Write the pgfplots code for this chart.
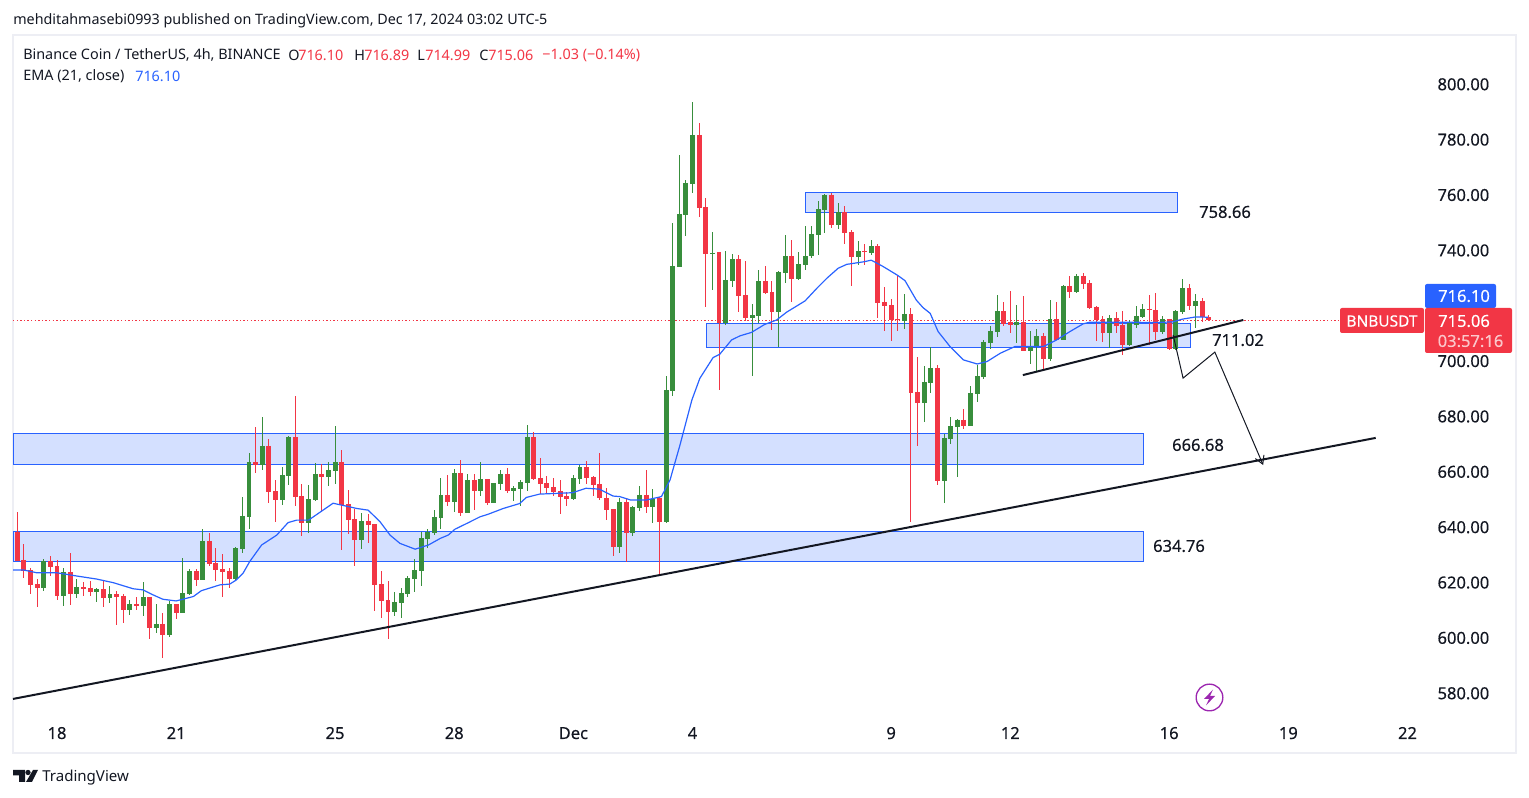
\documentclass[border=0pt]{standalone}
\usepackage{fontspec}
\setmainfont{Noto Sans}
\newfontfamily\med[FakeBold=0.25]{Noto Sans}
\usepackage{pgfplots}
\usepackage{pgfplotstable}
\pgfplotsset{compat=1.18}
\usetikzlibrary{arrows.meta}
\definecolor{tvred}{HTML}{F23645}
\definecolor{tvgreen}{HTML}{388E3C}
\definecolor{tvblue}{HTML}{2962FF}
\definecolor{tvink}{HTML}{131722}
\definecolor{tvframe}{HTML}{EDEEF4}
\definecolor{tvpurple}{HTML}{9C27B0}
\pgfplotstableread{
x hi top bot lo
0 645.7 638.6 627.9 627.9
1 634.2 628.4 624.5 622.0
2 625.4 624.8 619.5 616.1
3 621.5 619.7 618.3 611.4
5 629.8 627.9 626.0 622.7
6 628.4 626.2 615.4 613.9
8 630.8 624.1 616.1 612.1
10 620.5 618.6 617.9 615.4
11 620.8 618.3 616.8 615.4
13 621.2 617.9 614.7 611.4
15 617.2 616.1 615.0 604.9
16 616.1 615.4 610.3 605.6
18 615.0 612.5 611.8 610.3
20 615.0 615.0 603.8 599.9
22 609.1 605.3 601.3 593.0
24 612.5 612.5 609.3 607.1
27 625.1 624.4 621.2 619.0
29 638.0 635.3 627.0 626.2
30 632.7 627.3 624.8 620.8
31 630.6 625.1 624.1 615.0
32 625.5 624.4 621.5 618.3
36 676.4 663.8 662.7 659.8
38 672.1 669.6 653.0 649.0
39 657.3 653.3 650.1 642.1
42 687.6 672.8 651.2 647.9
43 655.9 651.5 641.8 637.1
46 663.1 659.5 658.4 646.1
49 668.1 663.8 648.3 632.0
50 653.7 648.6 642.8 637.8
51 646.8 643.2 635.6 626.2
53 645.0 642.5 641.0 634.5
54 641.4 641.4 619.3 610.0
55 624.4 619.7 613.6 607.4
56 620.8 613.9 609.6 599.8
65 659.1 651.9 649.3 647.9
67 664.5 659.8 645.4 644.3
69 659.4 657.3 653.3 646.4
71 657.6 657.6 649.0 648.2
74 661.6 659.4 653.3 652.6
78 674.6 672.8 657.6 657.3
79 665.2 658.0 655.8 652.2
80 658.7 656.2 654.4 652.6
81 658.0 654.7 652.9 651.5
82 657.3 653.3 651.1 645.0
83 652.9 651.5 650.4 647.9
86 664.1 662.0 658.0 655.8
87 658.7 658.4 655.5 651.5
88 667.0 655.8 650.8 650.0
89 654.4 650.8 646.4 642.8
90 646.8 646.8 633.1 629.8
92 650.8 649.3 638.1 627.7
95 660.9 651.9 647.5 645.4
97 651.1 650.8 642.1 622.6
103 786.3 781.9 755.6 752.3
104 759.2 755.9 739.0 719.8
106 739.7 739.7 714.0 689.8
109 738.6 737.1 723.8 718.0
110 736.4 724.1 715.8 714.7
113 734.6 729.2 724.9 724.5
114 729.2 725.2 718.0 711.5
117 744.0 738.2 729.9 721.6
123 761.0 760.3 749.4 748.3
125 756.3 754.1 746.5 742.6
126 747.6 746.9 737.9 727.4
128 742.6 740.0 739.6 735.0
130 742.6 741.8 721.3 715.8
131 727.0 721.6 720.2 711.1
132 722.7 720.5 715.1 707.5
133 731.4 715.5 715.0 711.1
135 719.4 717.3 688.7 642.1
136 701.8 689.1 685.1 669.6
139 698.9 697.8 657.0 655.5
143 683.0 679.0 676.8 675.7
149 721.6 718.4 713.7 713.0
150 725.6 714.4 713.3 710.4
152 723.8 714.4 703.9 703.9
155 710.4 709.3 701.0 697.1
157 721.6 715.5 707.9 707.9
159 731.0 727.4 725.2 723.1
161 732.1 731.0 728.1 726.3
162 729.6 728.5 719.5 719.1
163 720.2 719.8 715.1 707.5
164 716.6 715.5 710.4 707.2
166 718.0 715.8 713.0 710.4
167 718.4 713.3 706.1 702.5
171 724.2 719.1 718.7 706.1
172 724.9 718.7 710.8 707.9
174 715.5 715.5 704.6 704.3
177 728.1 726.7 720.2 718.7
179 723.1 722.0 716.2 714.4
180 716.89 716.10 715.06 714.99
}\redcandles
\pgfplotstableread{
x hi top bot lo
4 628.6 627.9 618.3 617.3
7 625.5 624.1 615.4 611.9
9 621.5 618.6 616.1 614.7
12 618.3 617.9 616.8 613.2
14 619.0 616.1 614.7 613.0
17 613.9 612.5 610.3 608.5
19 620.5 615.0 611.8 608.2
21 612.5 605.3 603.8 602.0
23 613.6 612.5 601.3 600.6
25 629.1 616.5 609.3 609.3
26 625.1 624.4 616.1 615.8
28 639.6 635.3 621.2 621.2
33 633.1 632.7 621.5 621.2
34 651.2 644.3 632.4 630.9
35 667.1 663.8 643.9 639.6
37 680.1 669.6 662.7 660.9
40 662.0 659.1 650.1 648.3
41 673.2 672.8 658.7 655.5
44 655.5 650.4 641.8 638.2
45 663.4 659.5 650.1 649.7
47 663.8 660.9 658.4 655.1
48 676.8 663.8 660.6 655.9
52 645.4 642.5 635.6 632.3
57 616.8 613.2 609.6 608.1
58 618.3 616.5 612.8 607.4
59 622.6 621.9 616.1 615.0
60 628.7 624.8 621.5 616.8
61 638.5 636.3 624.4 619.0
62 639.6 638.5 636.0 632.7
63 646.4 643.9 638.1 637.4
64 658.0 651.9 643.5 639.6
66 661.2 659.8 649.3 645.7
68 659.4 657.3 645.4 645.4
70 663.8 657.6 653.3 651.5
72 656.2 656.2 649.0 649.0
73 660.9 659.4 655.8 653.7
75 655.1 654.4 653.3 649.7
76 657.3 656.6 654.0 647.9
77 677.1 672.8 656.2 653.3
84 659.1 658.0 650.4 650.0
85 662.7 662.0 657.6 655.8
91 650.8 649.3 633.1 630.9
93 647.9 647.5 638.1 637.0
94 655.1 651.9 647.2 646.1
96 654.0 650.4 647.5 641.7
98 694.9 689.8 642.1 641.7
99 750.2 734.6 689.5 687.7
100 774.7 753.4 734.3 734.3
101 765.7 764.6 753.0 745.5
102 793.9 781.9 764.2 761.0
105 746.9 739.3 738.9 725.9
107 740.0 729.6 714.0 713.3
108 739.0 737.1 729.2 727.0
111 720.9 716.9 715.8 694.9
112 733.2 729.2 716.6 714.0
115 732.8 732.5 718.0 705.2
116 745.8 738.2 732.1 728.5
118 739.7 735.3 729.9 729.6
119 749.1 738.2 735.0 733.2
120 749.1 746.2 738.2 737.5
121 758.1 755.2 745.8 738.6
122 760.6 760.3 754.8 746.5
124 757.4 754.1 749.4 748.0
127 743.6 740.0 737.9 735.0
129 744.0 741.8 739.3 738.6
134 724.5 717.3 714.7 711.9
137 698.5 692.7 685.1 678.3
138 705.2 697.8 692.4 688.8
140 673.9 672.5 657.0 649.0
141 680.1 676.8 672.1 670.3
142 679.4 679.0 676.5 658.4
144 691.3 688.8 676.8 676.8
145 698.9 694.9 688.4 685.5
146 707.9 707.2 694.5 693.8
147 713.0 711.2 706.8 704.6
148 724.2 718.4 710.8 709.0
151 720.5 714.4 713.3 706.8
153 711.2 705.7 703.9 699.2
154 711.9 709.3 705.4 696.3
156 722.3 715.5 701.0 700.3
158 727.8 727.4 707.9 707.9
160 731.7 731.0 725.2 724.9
165 716.9 715.8 710.4 705.0
168 715.1 714.0 706.1 705.7
169 720.2 716.6 713.3 712.2
170 720.9 719.1 716.2 715.8
173 716.6 715.5 710.8 710.1
175 718.7 718.4 704.6 704.3
176 729.9 726.7 718.0 717.3
178 724.5 722.0 720.2 712.2
}\greencandles
\pgfplotstableread{
x y
-0.65 624.8
0.9 624.8
2.9 623.8
5.9 623.8
9 622.6
12 621.5
14.5 620.2
17.5 618.0
19 617.6
20.5 615.8
22 614.2
24 613.6
26.6 615.2
27.8 617.3
30.6 619.4
32.1 619.7
33.1 621.2
34.1 623.6
35.1 627.8
36.9 633.8
39.2 637.4
40.9 641.9
42.2 642.8
44 642.8
47.7 648.9
51.3 647.0
53.0 646.4
54.8 642.2
56.3 637.4
57.8 634.4
60.1 632.3
62.1 633.8
63.9 636.2
65.1 637.4
66.1 639.5
67.9 641.6
69.9 644.0
71.1 644.9
73.4 647.0
75.9 648.8
76.9 651.0
78.9 652.2
81.9 652.5
83.9 652.7
85.9 654.3
87.9 654.0
90.0 651.5
91.0 651.3
92.6 650.1
95.1 650.1
97.3 651.3
98.6 657.3
100.1 669.9
101.9 686.2
103.1 694.0
105.1 701.5
106.1 702.7
107.9 707.9
109.2 709.4
110.9 710.6
112.9 713.5
114.7 715.1
116.2 717.9
119.0 722.0
120.8 726.6
122.3 730.2
124.0 733.8
125.3 735.2
127.8 736.1
129.0 736.7
130.8 734.4
133.0 731.2
134.1 729.3
135.8 722.3
136.8 719.6
137.9 717.5
139.1 710.9
140.9 705.5
142.9 700.7
145 699.2
146.5 700.1
148.5 703.1
150.7 705.5
155 705.5
157 707.9
159 710.9
161 713.7
162 714.3
167 714.3
172 714.2
174.5 714.4
176 715.4
178 716.2
179.9 716.1
}\emaline
\newcommand\candleplot[5]{%
 \addplot[draw=none,mark=none,forget plot,
   error bars/.cd,y dir=both,y explicit,error mark=none,
   error bar style={line width=#2,color=#3}]
   table[x=x,y=top,y error plus expr=#4,y error minus expr=#5]{#1};}
\newcommand\fs[1]{\fontsize{#1}{#1}\selectfont}
\begin{document}
\begin{tikzpicture}
\path[use as bounding box] (-9.75pt,-33.75pt) rectangle (1137pt,564.75pt);
\begin{axis}[
  scale only axis,width=1127.25pt,height=538.5pt,
  xmin=-0.65,xmax=226.39,ymin=558.67,ymax=818.06,
  clip=false,
  axis line style={draw=tvframe,line width=1.2pt},
  tick style={draw=none},
  xtick={6,24,48,66,84,102,132,150,174,192,210},
  xticklabels={18,21,25,28,\textbf{Dec},4,9,12,16,19,22},
  ytick={580,600,...,700,740,760,780,800},
  yticklabel pos=right,
  yticklabel style={anchor=east,xshift=-16.5pt,yshift=.5pt,text=tvink,font=\med\fs{12.4}},
  xticklabel style={anchor=base,yshift=10.5pt,text=tvink,font=\med\fs{12.4}},
  /pgf/number format/assume math mode=true,
  /pgf/number format/fixed,/pgf/number format/fixed zerofill,/pgf/number format/precision=2,
  xticklabel style={/pgf/number format/fixed zerofill=false},
]
% zones
\addplot[fill=tvblue,fill opacity=.2,draw=tvblue,line width=.75pt] coordinates {(-0.65,674.1)(170.15,674.1)(170.15,662.9)(-0.65,662.9)(-0.65,674.1)};
\addplot[fill=tvblue,fill opacity=.2,draw=tvblue,line width=.75pt] coordinates {(-0.65,638.7)(170.15,638.7)(170.15,627.9)(-0.65,627.9)(-0.65,638.7)};
\addplot[fill=tvblue,fill opacity=.2,draw=tvblue,line width=.75pt] coordinates {(104.1,713.9)(177.15,713.9)(177.15,705.2)(104.1,705.2)(104.1,713.9)};
\addplot[fill=tvblue,fill opacity=.2,draw=tvblue,line width=.75pt] coordinates {(119.05,761.2)(175.2,761.2)(175.2,754.0)(119.05,754.0)(119.05,761.2)};
% current price line
\addplot[color=tvred,line width=0.75pt,dash pattern=on 1.1pt off 1.6pt] coordinates {(-0.65,715.06)(200.6,715.06)};
% candles
\candleplot{\redcandles}{0.75pt}{tvred}{\thisrow{hi}-\thisrow{top}}{\thisrow{top}-\thisrow{lo}}
\candleplot{\greencandles}{0.75pt}{tvgreen}{\thisrow{hi}-\thisrow{top}}{\thisrow{top}-\thisrow{lo}}
\candleplot{\redcandles}{3.7pt}{tvred}{0}{\thisrow{top}-\thisrow{bot}}
\candleplot{\greencandles}{3.7pt}{tvgreen}{0}{\thisrow{top}-\thisrow{bot}}
% EMA
\addplot[tvblue,line width=0.9pt] table[x=x,y=y]{\emaline};
% trend lines
\addplot[tvink,line width=1.5pt] coordinates {(-0.65,578.2)(205.2,672.5)};
\addplot[tvink,line width=1.5pt] coordinates {(151.9,695.2)(185.2,715.1)};
\addplot[tvink,line width=.75pt,-{Straight Barb[length=6pt,width=7pt]}] coordinates {(174.6,709.7)(176.1,694.1)(180.9,703.5)(188.2,662.7)};
\end{axis}
\begin{scope}[x=.75pt,y=-.75pt,shift={(-9.75pt,564.75pt)},text=tvink]
\node[anchor=west,inner sep=0,font=\fs{10.75}] at (13,20.5) {mehditahmasebi0993 published on TradingView.com, Dec 17, 2024 03:02 UTC-5};
\node[anchor=west,inner sep=0,font=\fs{10.8}] at (23,55) {Binance Coin / TetherUS, 4h, BINANCE};
\node[anchor=west,inner sep=0,font=\fs{10.8}] at (288,55) {O};
\node[anchor=west,inner sep=0,font=\fs{10.8},text=tvred] at (298,55) {716.10};
\node[anchor=west,inner sep=0,font=\fs{10.8}] at (354,55) {H};
\node[anchor=west,inner sep=0,font=\fs{10.8},text=tvred] at (364,55) {716.89};
\node[anchor=west,inner sep=0,font=\fs{10.8}] at (417,55) {L};
\node[anchor=west,inner sep=0,font=\fs{10.8},text=tvred] at (425,55) {714.99};
\node[anchor=west,inner sep=0,font=\fs{10.8}] at (479,55) {C};
\node[anchor=west,inner sep=0,font=\fs{10.8},text=tvred] at (488,55) {715.06};
\node[anchor=west,inner sep=0,font=\fs{10.8},text=tvred] at (542,55) {−1.03 (−0.14\%)};
\node[anchor=west,inner sep=0,font=\fs{10.8}] at (23,76) {EMA (21, close)};
\node[anchor=west,inner sep=0,font=\fs{10.8},text=tvblue] at (135,76) {716.10};
% drawing labels
\node[font=\med\fs{12.4},inner sep=0] at (1225,212) {758.66};
\node[font=\med\fs{12.4},inner sep=0] at (1198,445) {666.68};
\node[font=\med\fs{12.4},inner sep=0] at (1179,546) {634.76};
\node[font=\med\fs{12.4},inner sep=0] at (1238,340) {711.02};
% price tags
\fill[tvblue,rounded corners=1.5pt] (1425,284) rectangle (1496,308);
\node[font=\med\fs{12.4},inner sep=0,text=white] at (1464,296) {716.10};
\fill[tvred,rounded corners=1.5pt] (1340,308) rectangle (1424,333);
\node[font=\med\fs{11.6},inner sep=0,text=white] at (1382,321) {BNBUSDT};
\fill[tvred,rounded corners=1.5pt] (1425,308) rectangle (1512,353);
\node[font=\med\fs{12.4},inner sep=0,text=white] at (1464,321) {715.06};
\node[font=\med\fs{12.4},inner sep=0,text=white,text opacity=.7] at (1470.5,341) {03:57:16};
% lightning icon
\draw[tvpurple,line width=1pt] (1209.5,697.5) circle[radius=10pt];
\fill[tvpurple] (1213,689.5)--(1204,699)--(1209,699)--(1206,705.5)--(1215,696)--(1210,696)--cycle;
% logo
\fill[tvink] (13,770)--(25,770)--(25,782)--(19,782)--(19,775.5)--(13,775.5)--cycle;
\fill[tvink] (28,772.5) circle[radius=2pt];
\fill[tvink] (33,770)--(38,770)--(32,782)--(26,782)--cycle;
\node[anchor=west,inner sep=0,font=\fs{11.3}] at (42,777.5) {TradingView};
\end{scope}
\end{tikzpicture}
\end{document}
